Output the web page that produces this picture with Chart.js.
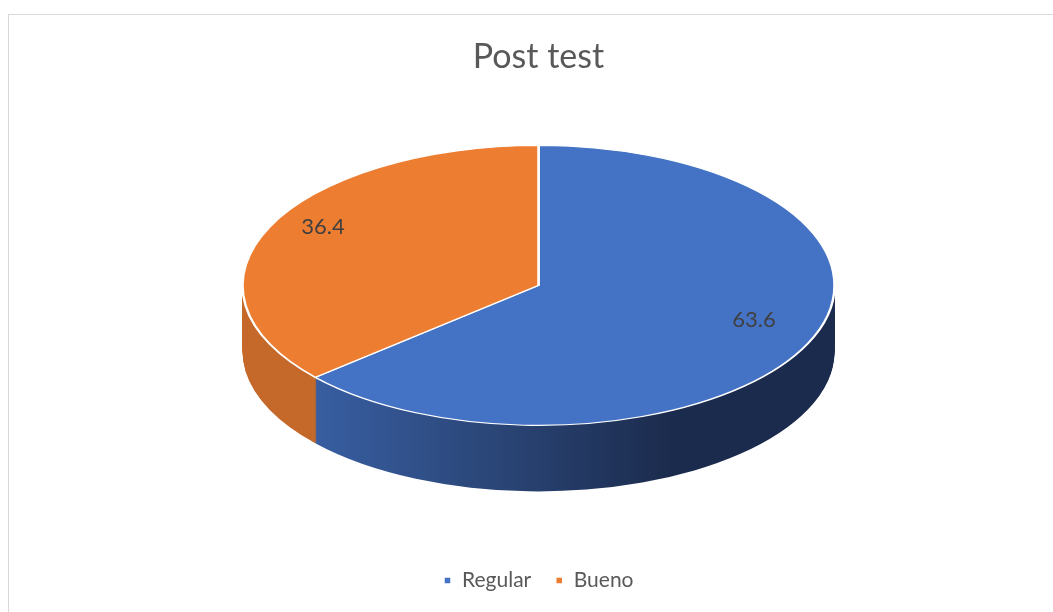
<!DOCTYPE html>
<html>
<head>
<meta charset="utf-8">
<script src="https://cdn.jsdelivr.net/npm/chart.js@4/dist/chart.umd.min.js"></script>
<style>
  html, body { margin: 0; padding: 0; background: #fff; overflow: hidden; }
  #box {
    position: absolute; left: 8px; top: 14px;
    width: 1061px; height: 620px;
    border: 1px solid #d9d9d9; box-sizing: border-box;
  }
</style>
</head>
<body>
<div id="box"><canvas id="pie"></canvas></div>
<script>
// Post test pie (3D look faked with a plugin)

const categories = ["Regular", "Bueno"];
const values = [63.6, 36.4];
const topColors = ["#4472C4", "#ED7D31"];

const TILT = 0.473;   // vertical squash of the disc
const DEPTH = 66;     // thickness of the disc in px
const LABEL_POS = 0.8;
const LABEL_LIFT = 12; // labels sit a bit higher, like the perspective view

function sideFill(ctx, i, arc) {
  if (i === 1) return "#c5692b";
  const g = ctx.createLinearGradient(arc.x - arc.outerRadius * 0.85, 0, arc.x + arc.outerRadius * 0.45, 0);
  g.addColorStop(0, "#3a62a8");
  g.addColorStop(0.55, "#2a4576");
  g.addColorStop(1, "#1b2b4d");
  return g;
}

// face centre sits half a depth above the chart area centre
function faceY(arc) {
  return arc.y - DEPTH / 2;
}

function squash(ctx, arc, dy) {
  ctx.translate(0, faceY(arc) + dy);
  ctx.scale(1, TILT);
  ctx.translate(0, -arc.y);
}

const pie3d = {
  id: "pie3d",
  beforeDatasetsDraw(chart) {
    const ctx = chart.ctx;
    const arcs = chart.getDatasetMeta(0).data;
    if (!arcs.length) return false;

    // side walls: stack of shifted copies, deepest first
    for (let d = DEPTH; d >= 1; d--) {
      arcs.forEach((arc, i) => {
        const saved = arc.options;
        ctx.save();
        squash(ctx, arc, d);
        arc.options = Object.assign({}, saved, { backgroundColor: sideFill(ctx, i, arc), borderWidth: 0 });
        arc.draw(ctx);
        arc.options = saved;
        ctx.restore();
      });
    }

    // top face
    arcs.forEach((arc) => {
      ctx.save();
      squash(ctx, arc, 0);
      arc.draw(ctx);
      ctx.restore();
    });
    return false;
  },
  afterDraw(chart) {
    const ctx = chart.ctx;
    const arcs = chart.getDatasetMeta(0).data;
    ctx.save();
    ctx.font = "22px Lato";
    ctx.fillStyle = "#404040";
    ctx.textAlign = "center";
    ctx.textBaseline = "middle";
    arcs.forEach((arc, i) => {
      const mid = (arc.startAngle + arc.endAngle) / 2;
      const r = arc.outerRadius * LABEL_POS;
      const x = arc.x + Math.cos(mid) * r;
      const y = faceY(arc) - LABEL_LIFT + Math.sin(mid) * r * TILT;
      ctx.fillText(String(values[i]), x, y);
    });
    ctx.restore();
  }
};

const ctx = document.getElementById("pie").getContext("2d");
new Chart(ctx, {
  type: "pie",
  data: {
    labels: categories,
    datasets: [
      {
        data: values,
        backgroundColor: topColors,
        borderColor: "#ffffff",
        borderWidth: 2.5,
        clip: false
      }
    ]
  },
  options: {
    responsive: true,
    maintainAspectRatio: false,
    animation: false,
    radius: 296,
    layout: { padding: { top: 0, bottom: 32, left: 0, right: 0 } },
    plugins: {
      title: {
        display: true,
        text: "Post test",
        color: "#595959",
        font: { family: "Lato", size: 34, weight: "normal" },
        padding: { top: 22, bottom: 13 }
      },
      legend: {
        position: "bottom",
        labels: {
          color: "#595959",
          font: { family: "Lato", size: 21 },
          boxWidth: 8,
          boxHeight: 8,
          padding: 24
        }
      },
      tooltip: { enabled: false }
    }
  },
  plugins: [pie3d]
});
</script>
</body>
</html>
